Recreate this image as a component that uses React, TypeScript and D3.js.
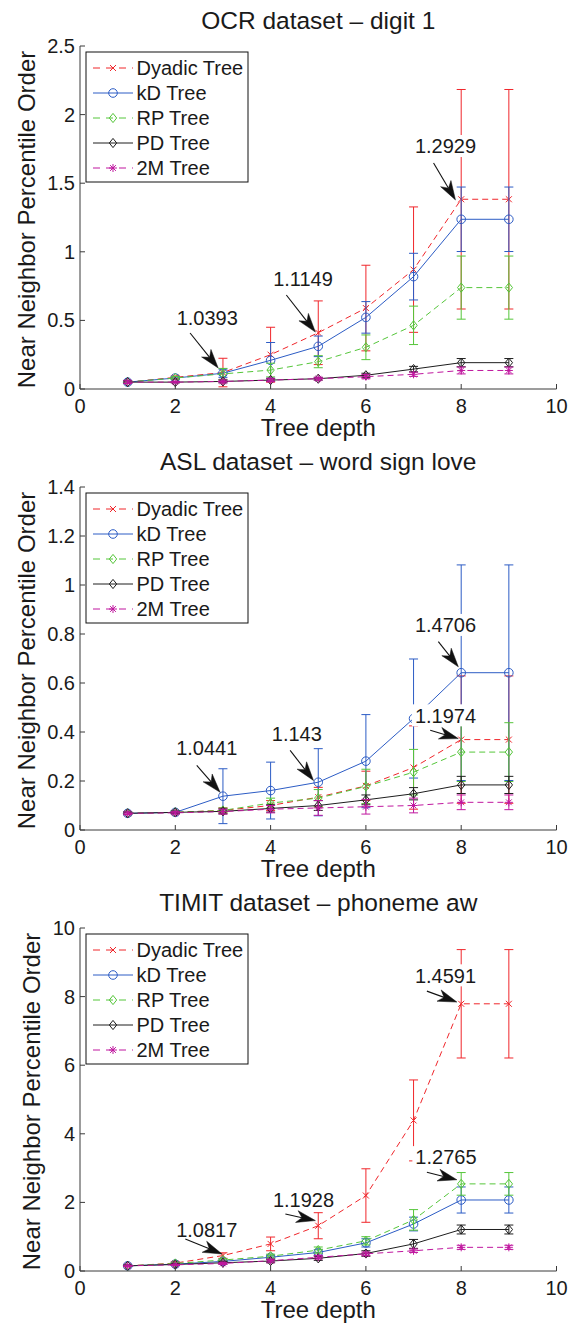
import React from 'react';
import * as d3 from 'd3';

// ---------- shared ----------
const depths = [1, 2, 3, 4, 5, 6, 7, 8, 9];
const seriesNames = ['Dyadic Tree', 'kD Tree', 'RP Tree', 'PD Tree', '2M Tree'];
const xTicks = [0, 2, 4, 6, 8, 10];
const xLabel = 'Tree depth';
const yLabel = 'Near Neighbor Percentile Order';

// ---------- panel 1: OCR ----------
const ocrTitle = 'OCR dataset – digit 1';
const ocrYTicks = [0, 0.5, 1, 1.5, 2, 2.5];
const ocrDyadic = [0.05, 0.085, 0.12, 0.25, 0.41, 0.59, 0.87, 1.383, 1.383];
const ocrDyadicErr = [0.005, 0.01, 0.104, 0.2, 0.232, 0.312, 0.457, 0.8, 0.8];
const ocrKD = [0.05, 0.08, 0.115, 0.209, 0.311, 0.522, 0.819, 1.237, 1.237];
const ocrKDErr = [0.005, 0.01, 0.03, 0.13, 0.075, 0.115, 0.17, 0.235, 0.235];
const ocrRP = [0.05, 0.08, 0.11, 0.138, 0.199, 0.304, 0.464, 0.739, 0.739];
const ocrRPErr = [0.005, 0.01, 0.04, 0.05, 0.044, 0.09, 0.14, 0.23, 0.23];
const ocrPD = [0.05, 0.05, 0.055, 0.065, 0.075, 0.1, 0.145, 0.192, 0.192];
const ocrPDErr = [0.01, 0.005, 0.01, 0.01, 0.01, 0.015, 0.02, 0.03, 0.03];
const ocr2M = [0.05, 0.05, 0.055, 0.065, 0.075, 0.09, 0.107, 0.135, 0.135];
const ocr2MErr = [0.01, 0.005, 0.01, 0.01, 0.01, 0.015, 0.015, 0.025, 0.025];
const ocrAnnLabels = ['1.0393', '1.1149', '1.2929'];
const ocrAnnText = [[2.67, 0.517], [4.68, 0.8], [7.67, 1.771]];
const ocrAnnTail = [[2.31, 0.408], [4.33, 0.685], [7.42, 1.647]];
const ocrAnnHead = [[2.9, 0.153], [4.94, 0.415], [7.88, 1.378]];

// ---------- panel 2: ASL ----------
const aslTitle = 'ASL dataset – word sign love';
const aslYTicks = [0, 0.2, 0.4, 0.6, 0.8, 1, 1.2, 1.4];
const aslDyadic = [0.068, 0.072, 0.08, 0.1, 0.134, 0.18, 0.255, 0.369, 0.369];
const aslDyadicErr = [0.005, 0.005, 0.01, 0.02, 0.04, 0.06, 0.17, 0.26, 0.26];
const aslKD = [0.068, 0.072, 0.138, 0.161, 0.195, 0.281, 0.455, 0.642, 0.642];
const aslKDErr = [0.005, 0.005, 0.112, 0.116, 0.137, 0.19, 0.243, 0.44, 0.44];
const aslRP = [0.068, 0.072, 0.08, 0.11, 0.13, 0.178, 0.236, 0.318, 0.318];
const aslRPErr = [0.005, 0.005, 0.01, 0.02, 0.035, 0.07, 0.093, 0.12, 0.12];
const aslPD = [0.068, 0.072, 0.076, 0.088, 0.1, 0.123, 0.148, 0.184, 0.184];
const aslPDErr = [0.005, 0.005, 0.01, 0.015, 0.02, 0.02, 0.025, 0.035, 0.035];
const asl2M = [0.068, 0.07, 0.075, 0.085, 0.09, 0.095, 0.1, 0.113, 0.113];
const asl2MErr = [0.005, 0.005, 0.01, 0.015, 0.03, 0.03, 0.03, 0.03, 0.03];
const aslAnnLabels = ['1.0441', '1.143', '1.4706', '1.1974'];
const aslAnnText = [[2.66, 0.334], [4.55, 0.393], [7.67, 0.837], [7.67, 0.468]];
const aslAnnTail = [[2.45, 0.264], [4.41, 0.325], [7.52, 0.769], [7.35, 0.407]];
const aslAnnHead = [[2.94, 0.154], [4.9, 0.202], [7.94, 0.666], [7.94, 0.373]];

// ---------- panel 3: TIMIT ----------
const timitTitle = 'TIMIT dataset – phoneme aw';
const timitYTicks = [0, 2, 4, 6, 8, 10];
const timitDyadic = [0.15, 0.23, 0.45, 0.79, 1.32, 2.2, 4.39, 7.79, 7.79];
const timitDyadicErr = [0.02, 0.04, 0.08, 0.2, 0.38, 0.78, 1.18, 1.58, 1.58];
const timitKD = [0.15, 0.2, 0.28, 0.4, 0.54, 0.82, 1.37, 2.07, 2.07];
const timitKDErr = [0.02, 0.03, 0.04, 0.06, 0.08, 0.12, 0.2, 0.38, 0.38];
const timitRP = [0.15, 0.22, 0.32, 0.43, 0.61, 0.88, 1.49, 2.54, 2.54];
const timitRPErr = [0.02, 0.03, 0.04, 0.06, 0.09, 0.12, 0.3, 0.33, 0.33];
const timitPD = [0.15, 0.19, 0.24, 0.29, 0.37, 0.51, 0.79, 1.21, 1.21];
const timitPDErr = [0.02, 0.03, 0.04, 0.05, 0.06, 0.08, 0.13, 0.13, 0.13];
const timit2M = [0.15, 0.18, 0.22, 0.3, 0.4, 0.5, 0.59, 0.69, 0.69];
const timit2MErr = [0.02, 0.02, 0.03, 0.04, 0.05, 0.05, 0.05, 0.06, 0.06];
const timitAnnLabels = ['1.0817', '1.1928', '1.2765', '1.4591'];
const timitAnnText = [[2.66, 1.2], [4.69, 2.07], [7.68, 3.32], [7.67, 8.62]];
const timitAnnTail = [[2.21, 0.934], [4.31, 1.66], [7.28, 2.88], [7.28, 8.16]];
const timitAnnHead = [[2.98, 0.496], [4.94, 1.47], [7.91, 2.66], [7.91, 7.84]];

// ---------- styles ----------
const seriesColors = ['#f0262b', '#2c5cc5', '#55c63a', '#1e1e1e', '#c0179f'];
const seriesDash = ['6,4', null, '6,4', null, '6,4'];
const seriesMarker = ['x', 'o', 'd', 'd', '*'];

const FONT = '"Liberation Sans", Arial, Helvetica, sans-serif';
const TEXT = '#1a1a1a';
const AXIS = '#3a3a3a';

const panels = [
  {
    title: ocrTitle, yTicks: ocrYTicks,
    values: [ocrDyadic, ocrKD, ocrRP, ocrPD, ocr2M],
    errs: [ocrDyadicErr, ocrKDErr, ocrRPErr, ocrPDErr, ocr2MErr],
    ann: { labels: ocrAnnLabels, text: ocrAnnText, tail: ocrAnnTail, head: ocrAnnHead },
  },
  {
    title: aslTitle, yTicks: aslYTicks,
    values: [aslDyadic, aslKD, aslRP, aslPD, asl2M],
    errs: [aslDyadicErr, aslKDErr, aslRPErr, aslPDErr, asl2MErr],
    ann: { labels: aslAnnLabels, text: aslAnnText, tail: aslAnnTail, head: aslAnnHead },
  },
  {
    title: timitTitle, yTicks: timitYTicks,
    values: [timitDyadic, timitKD, timitRP, timitPD, timit2M],
    errs: [timitDyadicErr, timitKDErr, timitRPErr, timitPDErr, timit2MErr],
    ann: { labels: timitAnnLabels, text: timitAnnText, tail: timitAnnTail, head: timitAnnHead },
  },
];

const W = 571;
const H = 1326;
const LEFT = 80;
const RIGHT = 556.5;
const PANEL_TOP = 46;
const PANEL_STEP = 441;
const PANEL_H = 343;

function textWidth(s: string, size: number) {
  let w = 0;
  for (const c of s) w += c === '.' ? 0.278 : 0.556;
  return w * size;
}

function fmt(v: number) {
  return String(+v.toFixed(2));
}

function Marker({ type, x, y, color }: { type: string; x: number; y: number; color: string }) {
  const p = { stroke: color, strokeWidth: 1, fill: 'none' };
  if (type === 'o') return <circle cx={x} cy={y} r={4.3} {...p} />;
  if (type === 'd') {
    const s = 4.6;
    return <polygon points={`${x},${y - s} ${x + s * 0.8},${y} ${x},${y + s} ${x - s * 0.8},${y}`} {...p} />;
  }
  if (type === 'x') {
    const s = 3;
    return (
      <g {...p}>
        <line x1={x - s} y1={y - s} x2={x + s} y2={y + s} />
        <line x1={x - s} y1={y + s} x2={x + s} y2={y - s} />
      </g>
    );
  }
  const s = 4;
  const d = s * 0.72;
  return (
    <g {...p}>
      <line x1={x - s} y1={y} x2={x + s} y2={y} />
      <line x1={x} y1={y - s} x2={x} y2={y + s} />
      <line x1={x - d} y1={y - d} x2={x + d} y2={y + d} />
      <line x1={x - d} y1={y + d} x2={x + d} y2={y - d} />
    </g>
  );
}

function Arrow({ x1, y1, x2, y2 }: { x1: number; y1: number; x2: number; y2: number }) {
  const ang = Math.atan2(y2 - y1, x2 - x1);
  const L = 19;
  const Wd = 12;
  const ux = Math.cos(ang), uy = Math.sin(ang);
  const px = -uy, py = ux;
  const bx = x2 - ux * L, by = y2 - uy * L;
  const nx = x2 - ux * L * 0.72, ny = y2 - uy * L * 0.72;
  const pts = [
    [x2, y2],
    [bx + px * Wd / 2, by + py * Wd / 2],
    [nx, ny],
    [bx - px * Wd / 2, by - py * Wd / 2],
  ].map((q) => q.join(',')).join(' ');
  return (
    <g>
      <line x1={x1} y1={y1} x2={nx} y2={ny} stroke="#111" strokeWidth={1.1} />
      <polygon points={pts} fill="#111" stroke="#111" strokeWidth={0.5} />
    </g>
  );
}

function Panel({ idx }: { idx: number }) {
  const pnl = panels[idx];
  const top = PANEL_TOP + idx * PANEL_STEP;
  const bottom = top + PANEL_H;
  const yMax = pnl.yTicks[pnl.yTicks.length - 1];
  const x = d3.scaleLinear().domain([0, 10]).range([LEFT, RIGHT]);
  const y = d3.scaleLinear().domain([0, yMax]).range([bottom, top]);
  const maxTickW = d3.max(pnl.yTicks, (t) => textWidth(fmt(t), 20)) as number;
  const yLabelX = 75 - maxTickW - 12.5;
  const cx = (LEFT + RIGHT) / 2;
  const line = d3.line<number>().x((_, i) => x(depths[i])).y((v) => y(v));
  const cap = 4.5;
  const legTop = top + 6;
  const legLeft = 86;
  const legW = 162;
  const legH = 130;

  return (
    <g>
      {/* title */}
      <text x={cx} y={top - 17.5} textAnchor="middle" fontSize={24.5} fill={TEXT} fontFamily={FONT}>
        {pnl.title}
      </text>

      {/* series */}
      {pnl.values.map((vals, s) => (
        <g key={s}>
          {vals.map((v, i) => {
            const e = pnl.errs[s][i];
            const xx = x(depths[i]);
            const y1 = y(v + e), y2 = y(v - e);
            return (
              <g key={i} stroke={seriesColors[s]} strokeWidth={1}>
                <line x1={xx} x2={xx} y1={y1} y2={y2} />
                <line x1={xx - cap} x2={xx + cap} y1={y1} y2={y1} />
                <line x1={xx - cap} x2={xx + cap} y1={y2} y2={y2} />
              </g>
            );
          })}
          <path
            d={line(vals) || ''}
            fill="none"
            stroke={seriesColors[s]}
            strokeWidth={1}
            strokeDasharray={seriesDash[s] || undefined}
          />
          {vals.map((v, i) => (
            <Marker key={i} type={seriesMarker[s]} x={x(depths[i])} y={y(v)} color={seriesColors[s]} />
          ))}
        </g>
      ))}

      {/* axes */}
      <g stroke={AXIS} strokeWidth={1} fill="none">
        <line x1={LEFT} x2={LEFT} y1={top} y2={bottom} />
        <line x1={LEFT} x2={RIGHT} y1={bottom} y2={bottom} />
        {pnl.yTicks.map((t) => (
          <line key={t} x1={LEFT} x2={LEFT + 5} y1={y(t)} y2={y(t)} />
        ))}
        {xTicks.map((t) => (
          <line key={t} x1={x(t)} x2={x(t)} y1={bottom} y2={bottom - 5} />
        ))}
      </g>
      {pnl.yTicks.map((t) => (
        <text key={t} x={75} y={y(t) + 7} textAnchor="end" fontSize={20} fill={TEXT} fontFamily={FONT}>
          {fmt(t)}
        </text>
      ))}
      {xTicks.map((t) => (
        <text key={t} x={x(t)} y={bottom + 23.5} textAnchor="middle" fontSize={20} fill={TEXT} fontFamily={FONT}>
          {t}
        </text>
      ))}
      <text x={cx} y={bottom + 47} textAnchor="middle" fontSize={24} fill={TEXT} fontFamily={FONT}>
        {xLabel}
      </text>
      <text
        transform={`translate(${yLabelX},${(top + bottom) / 2 + 2}) rotate(-90)`}
        textAnchor="middle"
        fontSize={24}
        fill={TEXT}
        fontFamily={FONT}
      >
        {yLabel}
      </text>

      {/* legend */}
      <rect x={legLeft} y={legTop} width={legW} height={legH} fill="#fff" stroke="#111" strokeWidth={1} />
      {seriesNames.map((name, s) => {
        const cy = legTop + 16 + s * 25;
        return (
          <g key={name}>
            <line
              x1={93}
              x2={133}
              y1={cy}
              y2={cy}
              stroke={seriesColors[s]}
              strokeWidth={1}
              strokeDasharray={seriesDash[s] ? '7,6' : undefined}
            />
            <Marker type={seriesMarker[s]} x={113} y={cy} color={seriesColors[s]} />
            <text x={136.5} y={cy + 7} fontSize={20} fill={TEXT} fontFamily={FONT}>
              {name}
            </text>
          </g>
        );
      })}

      {/* annotations */}
      {pnl.ann.labels.map((lab, i) => {
        const [tx, ty] = pnl.ann.text[i];
        const [ax, ay] = pnl.ann.tail[i];
        const [hx, hy] = pnl.ann.head[i];
        const w = textWidth(lab, 20) + 6;
        const px = x(tx), py = y(ty);
        return (
          <g key={lab}>
            <rect x={px - w / 2} y={py - 11} width={w} height={22} fill="#fff" />
            <text x={px} y={py + 7.2} textAnchor="middle" fontSize={20} fill={TEXT} fontFamily={FONT}>
              {lab}
            </text>
            <Arrow x1={x(ax)} y1={y(ay)} x2={x(hx)} y2={y(hy)} />
          </g>
        );
      })}
    </g>
  );
}

export default function App() {
  React.useEffect(() => {
    document.body.style.margin = '0';
  }, []);
  return (
    <svg
      width={W}
      height={H}
      viewBox={`0 0 ${W} ${H}`}
      style={{ position: 'absolute', left: 0, top: 0, background: '#fff' }}
    >
      <rect width={W} height={H} fill="#fff" />
      {panels.map((_, i) => (
        <Panel key={i} idx={i} />
      ))}
    </svg>
  );
}
